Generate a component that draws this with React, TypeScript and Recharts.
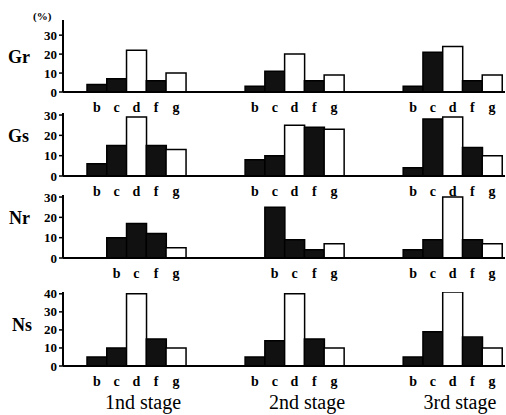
import React from "react";
import { BarChart, Bar, XAxis, YAxis, Cell } from "recharts";

const categories = ["b", "c", "d", "f", "g"];
// Nr, 1st and 2nd stage: no d, bars start one step to the right
const nrShortCategories = ["", "b", "c", "f", "g"];
const stageNames = ["1nd stage", "2nd stage", "3rd stage"];
const whiteCategories = ["d", "g"];

const grValues = [
  [4, 7, 22, 6, 10],
  [3, 11, 20, 6, 9],
  [3, 21, 24, 6, 9],
];
const gsValues = [
  [6, 15, 29, 15, 13],
  [8, 10, 25, 24, 23],
  [4, 28, 29, 14, 10],
];
const nrValues = [
  [null, 10, 17, 12, 5],
  [null, 25, 9, 4, 7],
  [4, 9, 30, 9, 7],
];
const nsValues = [
  [5, 10, 40, 15, 10],
  [5, 14, 40, 15, 10],
  [5, 19, 41, 16, 10],
];

const FONT = "Liberation Serif";
const GAP_SLOTS = 3;
const TOP_PAD = 8;

type Slot = { key: string; label: string; value: number | null };

const buildRow = (values: (number | null)[][], cats: string[][]): Slot[] => {
  const out: Slot[] = [];
  values.forEach((stage, s) => {
    if (s > 0) {
      for (let i = 0; i < GAP_SLOTS; i++) out.push({ key: `gap${s}-${i}`, label: "", value: null });
    }
    stage.forEach((v, i) => out.push({ key: `s${s}-${i}`, label: cats[s][i], value: v }));
  });
  return out;
};

const rows = [
  { name: "Gr", data: buildRow(grValues, [categories, categories, categories]), top: 20, baseline: 92, max: 38, ticks: [0, 10, 20, 30], labelY: 57, labelX: 8 },
  { name: "Gs", data: buildRow(gsValues, [categories, categories, categories]), top: 113, baseline: 176, max: 31, ticks: [0, 10, 20, 30], labelY: 136, labelX: 8 },
  { name: "Nr", data: buildRow(nrValues, [nrShortCategories, nrShortCategories, categories]), top: 195, baseline: 258, max: 31, ticks: [0, 10, 20, 30], labelY: 218, labelX: 9 },
  { name: "Ns", data: buildRow(nsValues, [categories, categories, categories]), top: 292, baseline: 366, max: 41, ticks: [0, 10, 20, 30, 40], labelY: 325, labelX: 12 },
];

const stageCenters = [143, 307, 460];

const XTick = ({ x, y, payload, labels }: any) => (
  <text x={x} y={y + 12} textAnchor="middle" fill="#000" fontSize={14} fontWeight="bold" fontFamily={FONT}>
    {labels[payload.index] ?? ""}
  </text>
);

const YTick = ({ x, y, payload }: any) => (
  <text x={x} y={y + 4.5} textAnchor="end" fill="#000" fontSize={13} fontWeight="bold" fontFamily={FONT}>
    {payload.value}
  </text>
);

const Row = ({ row }: { row: (typeof rows)[number] }) => {
  const xAxisHeight = 26;
  const labels = row.data.map((d) => d.label);
  return (
    <div style={{ position: "absolute", left: 0, top: row.top - TOP_PAD }}>
      <BarChart
        width={506}
        height={row.baseline - row.top + xAxisHeight + TOP_PAD}
        data={row.data}
        margin={{ top: TOP_PAD, right: 1, bottom: 0, left: 0 }}
        barCategoryGap={0}
      >
        <XAxis
          dataKey="key"
          interval={0}
          tickLine={false}
          height={xAxisHeight}
          padding={{ left: 24, right: 3 }}
          axisLine={{ stroke: "#000", strokeWidth: 2 }}
          tick={<XTick labels={labels} />}
        />
        <YAxis
          domain={[0, row.max]}
          ticks={row.ticks}
          interval={0}
          width={63}
          tickSize={4}
          allowDataOverflow
          axisLine={{ stroke: "#000", strokeWidth: 2 }}
          tickLine={{ stroke: "#000", strokeWidth: 1.5 }}
          tick={<YTick />}
        />
        <Bar dataKey="value" isAnimationActive={false} stroke="#000" strokeWidth={1.5}>
          {row.data.map((d, i) => (
            <Cell key={`c-${i}`} fill={whiteCategories.includes(d.label) ? "#fff" : "#111"} />
          ))}
        </Bar>
      </BarChart>
      <div
        style={{
          position: "absolute",
          left: row.labelX,
          top: row.labelY - row.top + TOP_PAD - 11,
          fontFamily: FONT,
          fontWeight: "bold",
          fontSize: 18,
          lineHeight: "22px",
        }}
      >
        {row.name}
      </div>
    </div>
  );
};

export default function App() {
  return (
    <div style={{ position: "absolute", left: 0, top: 0, width: 506, height: 415, background: "#fff", overflow: "hidden" }}>
      {rows.map((r) => (
        <Row key={r.name} row={r} />
      ))}
      <div style={{ position: "absolute", left: 33, top: 9, fontFamily: FONT, fontWeight: "bold", fontSize: 11, lineHeight: "14px" }}>
        (%)
      </div>
      {stageNames.map((s, i) => (
        <div
          key={s}
          style={{
            position: "absolute",
            left: stageCenters[i] - 60,
            width: 120,
            top: 390,
            textAlign: "center",
            fontFamily: FONT,
            fontSize: 20,
            lineHeight: "24px",
          }}
        >
          {s}
        </div>
      ))}
    </div>
  );
}
